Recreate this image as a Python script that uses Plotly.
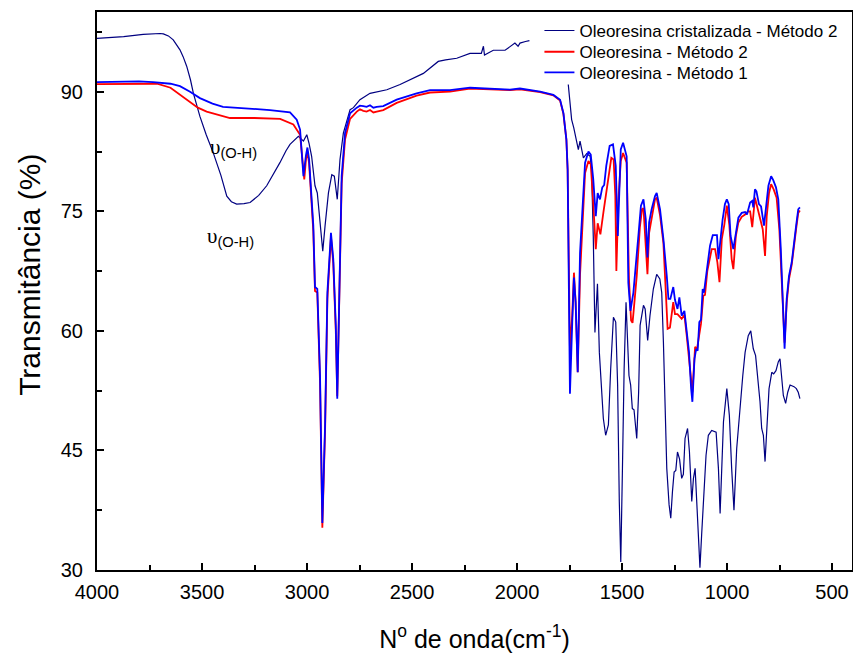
import plotly.graph_objects as go

# ---------------- data ----------------
cris_wn = [4000, 3873, 3780, 3733, 3700, 3684, 3660, 3637, 3620, 3605, 3590, 3573, 3555, 3541, 3510,
           3480, 3446, 3410, 3382, 3360, 3335, 3300, 3271, 3230, 3192, 3160, 3129, 3100, 3081, 3041,
           3017, 3001, 2990, 2978, 2962, 2951, 2938, 2925, 2914, 2898, 2882, 2870, 2856, 2843, 2827,
           2795, 2779, 2748, 2700, 2620, 2557, 2510, 2446, 2375, 2340, 2287, 2224, 2170, 2160, 2155,
           2113, 2057, 2010, 1995, 1986, 1960, 1941,
           1850,
           1756, 1748, 1740, 1730, 1721, 1708, 1700, 1692, 1684, 1668, 1652, 1645, 1637, 1629, 1617,
           1608, 1597, 1589, 1578, 1565, 1554, 1541, 1530, 1521, 1513, 1506, 1498, 1490, 1481, 1475,
           1467, 1459, 1451, 1443, 1430, 1421, 1414, 1398, 1390, 1378, 1367, 1351, 1335, 1320, 1311,
           1303, 1295, 1287, 1276, 1268, 1260, 1252, 1244, 1236, 1226, 1216, 1208, 1200, 1188, 1179,
           1168, 1160, 1152, 1144, 1136, 1129, 1121, 1113, 1100, 1089, 1073, 1052, 1041, 1033, 1025,
           1017, 1001, 989, 978, 967, 954, 938, 925, 914, 899, 887, 875, 864, 851, 843,
           835, 827, 819, 811, 800, 787, 778, 767, 756, 748, 740, 732, 721, 711, 700,
           690, 681, 670, 661, 653]
cris_t = [96.7, 96.9, 97.2, 97.3, 97.3, 97.25, 97.0, 96.5, 95.9, 95.25, 94.4, 93.2, 91.5, 89.8, 86.9,
          84.6, 82.3, 79.5, 76.9, 76.2, 75.9, 75.95, 76.1, 77.0, 78.2, 79.6, 81.1, 82.6, 83.4, 84.4,
          83.8, 84.6, 83.5, 81.9, 78.2, 77.3, 74.0, 70.0, 73.2, 77.3, 79.6, 79.4, 76.5, 81.5, 84.8,
          87.75, 88.0, 89.0, 89.8, 90.25, 90.9, 91.5, 92.3, 93.8, 94.0, 94.2, 94.8, 94.8, 95.7, 94.6,
          95.2, 95.2, 96.1, 95.7, 96.1, 96.3, 96.4,
          None,
          90.9, 88.5, 86.5, 85.5, 84.4, 82.75, 83.8, 82.5, 81.7, 82.25, 81.9, 80.25, 71.9, 59.8, 65.9,
          57.3, 51.9, 49.0, 46.9, 48.2, 55.25, 61.7, 61.1, 53.2, 38.6, 31.0, 42.75, 55.25, 63.6, 60.0,
          54.4, 53.2, 50.25, 50.1, 46.5, 52.3, 60.7, 63.2, 62.75, 58.8, 61.9, 65.25, 67.1, 66.5, 64.8,
          58.6, 50.25, 42.75, 38.2, 36.5, 39.8, 42.3, 42.5, 44.8, 43.9, 41.5, 42.0, 46.5, 47.75, 44.8,
          38.6, 41.5, 42.75, 37.75, 32.75, 30.3, 34.4, 38.6, 44.4, 46.9, 47.5, 47.3, 42.75, 37.1, 43.2,
          48.6, 52.75, 49.4, 42.75, 37.5, 45.25, 50.7, 54.4, 57.3, 59.4, 60.0, 57.75, 56.9, 53.6, 51.1,
          47.75, 46.9, 43.6, 47.3, 52.75, 54.8, 54.6, 55.0, 56.1, 56.5, 53.6, 51.9, 50.9, 52.3, 53.2,
          53.1, 53.0, 52.75, 52.3, 51.5]

m2_wn = [4000, 3900, 3800, 3714, 3650, 3573, 3520, 3478, 3367, 3250, 3128, 3065, 3033, 3013, 3005,
         2998, 2990, 2970, 2962, 2951, 2938, 2927, 2914, 2903, 2886, 2875, 2863, 2856, 2846, 2835,
         2819, 2795, 2763, 2748, 2732, 2716, 2700, 2684, 2668, 2637, 2573, 2478, 2414, 2319, 2224,
         2129, 2033, 1986, 1890, 1827, 1795, 1779, 1765, 1759, 1748, 1737, 1729, 1721, 1711, 1700,
         1692, 1676, 1660, 1649, 1637, 1625, 1616, 1610, 1603, 1589, 1575, 1551, 1540, 1532, 1527,
         1518, 1506, 1495, 1478, 1467, 1457, 1450, 1443, 1430, 1415, 1405, 1398, 1387, 1379, 1371,
         1355, 1343, 1335, 1319, 1303, 1283, 1272, 1256, 1248, 1236, 1216, 1203, 1192, 1176, 1165,
         1152, 1143, 1133, 1124, 1113, 1105, 1094, 1073, 1057, 1046, 1036, 1025, 1013, 1001, 989,
         978, 970, 958, 946, 930, 914, 900, 890, 880, 867, 855, 843, 830, 819, 811,
         800, 790, 778, 764, 751, 740, 735, 726, 716, 705, 692, 681, 671, 661, 653]
m2_t = [90.95, 91.0, 91.05, 91.0, 90.5, 89.0, 88.0, 87.5, 86.7, 86.7, 86.6, 85.9, 84.6, 79.0, 81.5,
        82.5, 81.0, 72.5, 65.0, 64.8, 53.5, 35.3, 47.5, 64.0, 71.8, 68.5, 60.0, 51.8, 63.5, 78.5,
        84.0, 86.6, 87.5, 87.8, 87.6, 87.5, 87.7, 87.4, 87.5, 87.7, 88.6, 89.5, 89.9, 90.0, 90.4,
        90.3, 90.2, 90.3, 89.95, 89.55, 88.9, 87.2, 84.0, 80.2, 57.4, 62.0, 67.3, 63.6, 54.8, 67.0,
        71.1, 79.8, 81.3, 80.9, 76.0, 70.25, 73.5, 72.75, 72.1, 74.8, 77.3, 81.7, 81.5, 77.0, 67.5,
        76.0, 81.3, 82.3, 81.1, 66.5, 61.3, 61.0, 63.0, 66.9, 73.0, 75.25, 75.4, 71.1, 67.1, 72.3,
        75.0, 76.5, 76.7, 74.5, 71.0, 60.25, 60.4, 63.6, 62.1, 62.1, 61.5, 62.0, 59.4, 54.8, 52.3,
        58.0, 57.7, 59.4, 60.9, 64.4, 64.5, 67.5, 70.25, 70.25, 68.6, 66.1, 71.5, 73.3, 75.7, 73.25,
        69.0, 67.75, 71.9, 73.6, 74.3, 74.6, 75.0, 75.0, 73.0, 76.7, 75.4, 74.0, 72.75, 69.4, 74.4,
        77.3, 78.4, 77.75, 76.7, 72.75, 66.0, 63.6, 58.5, 63.5, 66.5, 68.3, 71.0, 72.8, 74.8, 75.1]

m1_wn = [4000, 3900, 3800, 3733, 3650, 3605, 3557, 3510, 3450, 3400, 3300, 3176, 3081, 3049, 3033,
         3017, 3005, 2998, 2990, 2970, 2962, 2951, 2938, 2927, 2914, 2903, 2886, 2875, 2863, 2856,
         2846, 2835, 2819, 2795, 2763, 2748, 2732, 2716, 2700, 2684, 2668, 2637, 2573, 2478, 2414,
         2319, 2224, 2129, 2033, 1986, 1890, 1827, 1795, 1779, 1765, 1759, 1748, 1737, 1729, 1721,
         1711, 1700, 1692, 1676, 1660, 1649, 1637, 1625, 1616, 1605, 1594, 1585, 1575, 1559, 1543,
         1530, 1520, 1514, 1506, 1495, 1478, 1470, 1460, 1446, 1430, 1421, 1410, 1398, 1387, 1379,
         1371, 1359, 1343, 1335, 1319, 1303, 1287, 1279, 1270, 1256, 1248, 1236, 1227, 1216, 1203,
         1192, 1181, 1171, 1165, 1155, 1147, 1140, 1132, 1124, 1116, 1110, 1094, 1081, 1068, 1048,
         1041, 1030, 1021, 1010, 1001, 992, 983, 970, 957, 946, 930, 914, 905, 890, 880,
         875, 867, 860, 848, 838, 824, 814, 803, 790, 780, 767, 756, 744, 735, 726,
         716, 705, 692, 681, 671, 661, 653]
m1_t = [91.2, 91.25, 91.3, 91.2, 91.0, 90.7, 90.0, 89.2, 88.5, 88.1, 87.9, 87.7, 87.4, 86.5, 85.25,
        79.4, 82.0, 83.0, 81.5, 73.2, 65.5, 65.25, 54.4, 35.9, 48.2, 64.8, 72.3, 69.0, 60.7, 51.5,
        64.8, 79.4, 84.8, 87.3, 88.0, 88.25, 88.2, 88.1, 88.3, 88.0, 88.1, 88.2, 89.0, 89.8, 90.2,
        90.2, 90.5, 90.4, 90.25, 90.4, 90.0, 89.6, 89.0, 87.3, 84.0, 80.25, 52.1, 61.1, 66.7, 63.6,
        54.8, 69.8, 73.6, 81.1, 82.5, 82.1, 79.0, 74.4, 77.3, 76.5, 78.0, 78.3, 80.7, 83.2, 83.4,
        80.7, 71.9, 78.0, 82.75, 83.6, 81.9, 66.0, 62.5, 64.8, 69.0, 72.3, 75.7, 76.5, 74.0, 69.2,
        73.6, 75.25, 76.9, 77.3, 75.25, 71.5, 66.9, 64.0, 64.0, 65.5, 63.9, 62.75, 64.2, 61.9, 62.5,
        59.8, 57.3, 52.75, 51.1, 56.5, 57.75, 57.5, 61.1, 61.4, 65.25, 64.8, 67.75, 70.7, 72.0, 72.0,
        69.0, 71.9, 74.0, 75.9, 76.5, 75.9, 71.9, 70.25, 72.3, 74.2, 74.8, 74.9, 74.6, 76.1, 76.3,
        75.5, 77.75, 77.5, 75.9, 75.6, 73.2, 75.25, 78.2, 79.4, 78.9, 78.0, 76.5, 70.25, 62.75, 57.75,
        64.0, 66.9, 68.6, 71.5, 73.2, 75.25, 75.5]

series_names = ["Oleoresina cristalizada - Método 2", "Oleoresina - Método 2", "Oleoresina - Método 1"]
x_tick_vals = [4000, 3500, 3000, 2500, 2000, 1500, 1000, 500]
y_tick_vals = [30, 45, 60, 75, 90]

# ---------------- figure ----------------
fig = go.Figure()
fig.add_trace(go.Scatter(x=cris_wn, y=cris_t, mode="lines", name=series_names[0],
                         line=dict(color="#000080", width=1.2), connectgaps=False,
                         legend="legend"))
fig.add_trace(go.Scatter(x=m2_wn, y=m2_t, mode="lines", name=series_names[1],
                         line=dict(color="#FF0000", width=1.8), legend="legend2"))
fig.add_trace(go.Scatter(x=m1_wn, y=m1_t, mode="lines", name=series_names[2],
                         line=dict(color="#0000FF", width=1.8), legend="legend3"))

FONT = "Arial, Liberation Sans, sans-serif"
axis_common = dict(showgrid=False, zeroline=False, showline=True, linecolor="black", linewidth=2,
                   mirror=True, ticks="inside", ticklen=7, tickwidth=1.5, tickcolor="black",
                   automargin=False,
                   tickfont=dict(family=FONT, size=20, color="black"))

fig.update_xaxes(range=[4000, 405], tickvals=x_tick_vals, ticklabelstandoff=3,
                 minor=dict(dtick=250, ticks="inside", ticklen=5, tickwidth=1.5, tickcolor="black"),
                 title=dict(text="N<sup>o</sup> de onda(cm<sup>-1</sup>)",
                            font=dict(family=FONT, size=25, color="black"),
                            standoff=28),
                 **axis_common)
fig.update_yaxes(range=[30, 100], tickvals=y_tick_vals, ticklabelstandoff=8,
                 minor=dict(tickvals=[37.5, 52.5, 67.5, 82.5, 97.5], ticks="inside", ticklen=5,
                            tickwidth=1.5, tickcolor="black"),
                 **axis_common)

# y-axis title placed as rotated text
fig.add_annotation(x=-0.0887, y=0.529, xref="paper", yref="paper", xanchor="center",
                   yanchor="middle", textangle=-90, showarrow=False,
                   text="Transmitância (%)", font=dict(family=FONT, size=30, color="black"))

ann_text = ('<span style="font-family:Liberation Serif, Times New Roman, serif;">υ</span>'
            '<sub>(O-H)</sub>')
fig.add_annotation(x=3470, y=83.0, xref="x", yref="y", xanchor="left", yanchor="middle",
                   text=ann_text, showarrow=False,
                   font=dict(family=FONT, size=21, color="black"))
fig.add_annotation(x=3485, y=71.8, xref="x", yref="y", xanchor="left", yanchor="middle",
                   text=ann_text, showarrow=False,
                   font=dict(family=FONT, size=21, color="black"))

leg_common = dict(x=0.586, xanchor="left", yanchor="middle", bgcolor="rgba(0,0,0,0)",
                  font=dict(family=FONT, size=17, color="black"), itemwidth=30)
fig.update_layout(
    width=853, height=656,
    margin=dict(l=97, r=1, t=12, b=86, autoexpand=False),
    paper_bgcolor="white", plot_bgcolor="white",
    showlegend=True,
    legend=dict(y=0.966, **leg_common),
    legend2=dict(y=0.928, **leg_common),
    legend3=dict(y=0.891, **leg_common),
)

fig.write_html("out.html", config={"displayModeBar": False},
               post_script="document.body.style.margin='0';document.body.style.overflow='hidden';")
